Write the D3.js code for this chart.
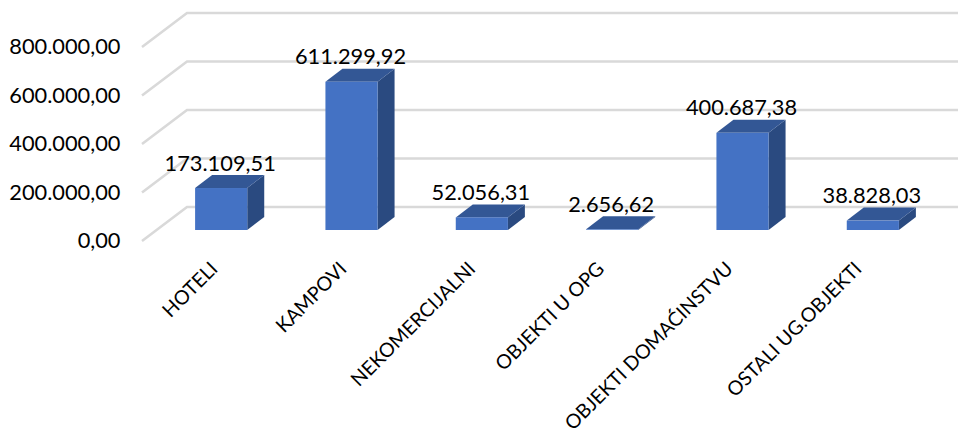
<!DOCTYPE html>
<html>
<head>
<meta charset="utf-8">
<script src="https://d3js.org/d3.v7.min.js"></script>
<style>
body { margin: 0; background: #fff; }
text { font-family: Lato, sans-serif; fill: #000; }
</style>
</head>
<body>
<div id="chart"></div>
<script>
// Chart data
var categories = ['HOTELI', 'KAMPOVI', 'NEKOMERCIJALNI', 'OBJEKTI U OPG', 'OBJEKTI DOMAĆINSTVU', 'OSTALI UG.OBJEKTI'];
var values = [173109.51, 611299.92, 52056.31, 2656.62, 400687.38, 38828.03];
var yTicks = [0, 200000, 400000, 600000, 800000];

var width = 958, height = 437;
var wallDx = 45, wallDy = -34;   // depth of the whole 3d box
var barDx = 17, barDy = -13;     // depth of one bar
var baseDx = 14, baseDy = -11;   // where bars stand on the floor

var hr = d3.formatLocale({ decimal: ',', thousands: '.', grouping: [3], currency: ['', ''] });
var fmt = hr.format(',.2f');

var svg = d3.select('#chart').append('svg')
	.attr('width', width)
	.attr('height', height)
	.style('display', 'block');

var y = d3.scaleLinear().domain([0, 800000]).range([241, 47]);
var x = d3.scaleBand().domain(categories).range([142, 924]).paddingInner(0.6).paddingOuter(0.3);
// Rotated labels run a bit tighter than the bars
var labelX = d3.scalePoint().domain(categories).range([219, 863]);

// Gridlines, bent at the back corner
svg.selectAll('path.grid')
	.data(yTicks)
	.enter()
	.append('path')
	.attr('class', 'grid')
	.attr('fill', 'none')
	.attr('stroke', '#d9d9d9')
	.attr('stroke-width', 2.6)
	.attr('d', function (d) {
		var p = y(d);
		return 'M142,' + p + 'L' + (142 + wallDx) + ',' + (p + wallDy) + 'L' + (924 + wallDx) + ',' + (p + wallDy);
	});

// Y labels
var yAxis = d3.axisLeft(y).tickValues(yTicks).tickFormat(fmt).tickSize(0).tickPadding(0);
var axisG = svg.append('g').attr('transform', 'translate(120.5,0)').call(yAxis);
axisG.select('.domain').remove();
axisG.selectAll('text')
	.attr('dy', '0.3em')
	.style('font-family', 'Lato, sans-serif')
	.style('font-size', '21.8px')
	.style('fill', '#000');

// Bars
var bars = svg.selectAll('g.bar')
	.data(categories)
	.enter()
	.append('g')
	.attr('class', 'bar')
	.attr('transform', 'translate(' + baseDx + ',' + baseDy + ')');

function val(i) { return values[i]; }

bars.append('path') // side
	.attr('fill', '#2a4a80')
	.attr('d', function (c, i) {
		var r = x(c) + x.bandwidth(), t = y(val(i)), b = y(0);
		return 'M' + r + ',' + t + 'L' + (r + barDx) + ',' + (t + barDy) + 'L' + (r + barDx) + ',' + (b + barDy) + 'L' + r + ',' + b + 'Z';
	});
bars.append('path') // top
	.attr('fill', '#335795')
	.attr('d', function (c, i) {
		var l = x(c), r = l + x.bandwidth(), t = y(val(i));
		return 'M' + l + ',' + t + 'L' + (l + barDx) + ',' + (t + barDy) + 'L' + (r + barDx) + ',' + (t + barDy) + 'L' + r + ',' + t + 'Z';
	});
bars.append('rect') // front
	.attr('fill', '#4472c4')
	.attr('x', function (c) { return x(c); })
	.attr('y', function (c, i) { return y(val(i)); })
	.attr('width', x.bandwidth())
	.attr('height', function (c, i) { return y(0) - y(val(i)); });

// Value labels
svg.selectAll('text.value')
	.data(categories)
	.enter()
	.append('text')
	.attr('class', 'value')
	.attr('text-anchor', 'middle')
	.attr('font-size', 21.8)
	.attr('x', function (c) { return x(c) + x.bandwidth() / 2 + baseDx - 1; })
	.attr('y', function (c, i) { return y(val(i)) + baseDy + barDy - 4.5; })
	.text(function (c, i) { return fmt(val(i)); });

// Category labels
svg.selectAll('text.cat')
	.data(categories)
	.enter()
	.append('text')
	.attr('class', 'cat')
	.attr('text-anchor', 'end')
	.attr('font-size', 19.6)
	.attr('transform', function (c) {
		return 'translate(' + labelX(c) + ',270) rotate(-45)';
	})
	.text(function (c) { return c; });
</script>
</body>
</html>
